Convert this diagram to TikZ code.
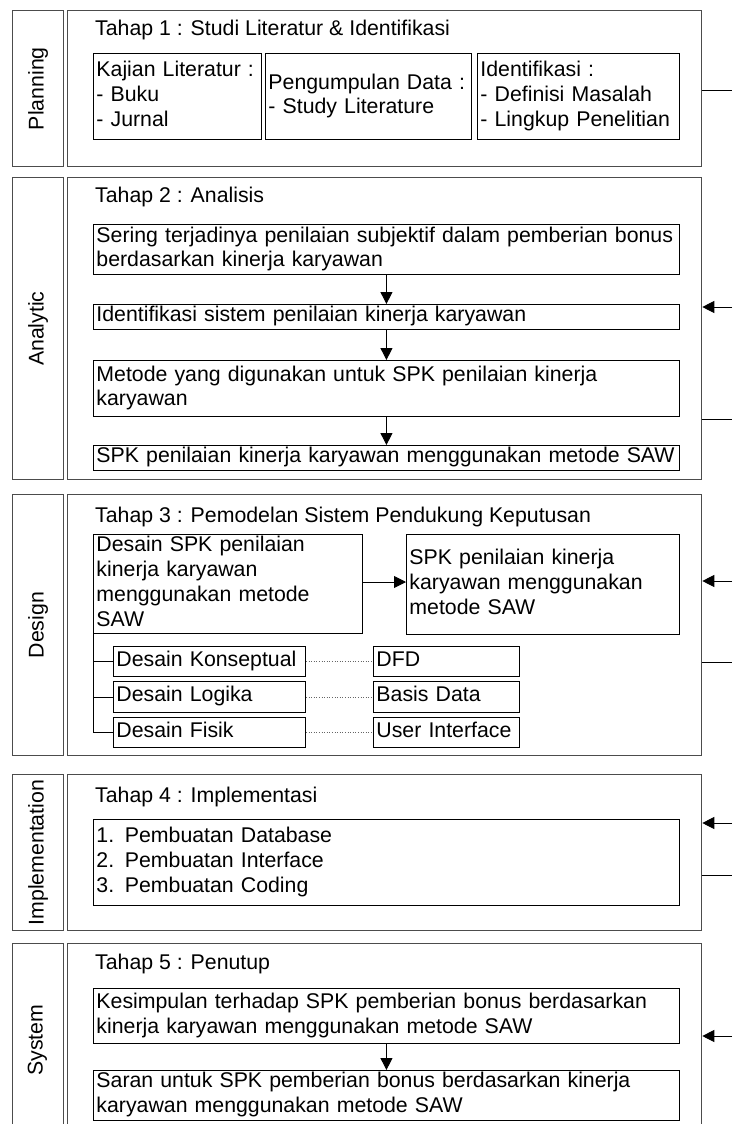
\documentclass[tikz,border=0pt]{standalone}
\usepackage{fontspec}
\setmainfont{Liberation Sans}
\usetikzlibrary{arrows.meta}
\tikzset{
 txt/.style={font=\fontsize{21.3}{24.8}\selectfont},
 outer/.style={draw=black!70, line width=1.3pt, anchor=north west, inner sep=0pt},
 inbox/.style={draw=black, line width=0.9pt, txt, align=left, anchor=north west, inner xsep=3pt, inner ysep=0pt},
 ttl/.style={txt, anchor=west, inner sep=2pt},
 vlab/.style={txt, rotate=90},
 arr/.style={line width=0.9pt, -{Triangle[length=12pt,width=12pt]}},
 con/.style={line width=0.9pt},
 dots/.style={dotted, line width=0.6pt, black!60},
}
\newcommand\bx[6]{%
 \pgfmathsetmacro\mybw{#4-#2}\pgfmathsetmacro\mybh{#5-#3}\pgfmathsetmacro\mytw{#4-#2-6}%
 \node[inbox, minimum width=\mybw pt, minimum height=\mybh pt, text width=\mytw pt] (#1) at (#2,#3) {\strut #6\strut};}
\newcommand\ob[5]{%
 \pgfmathsetmacro\mybw{#4-#2}\pgfmathsetmacro\mybh{#5-#3}%
 \node[outer, minimum width=\mybw pt, minimum height=\mybh pt] (#1) at (#2,#3) {};}
\begin{document}
\begin{tikzpicture}[x=1pt,y=-1pt]
\clip (0,0) rectangle (732,1124);
% ---------- Planning
\ob{l1}{12}{10}{63}{166}
\ob{m1}{67}{10}{701}{166}
\node[vlab] at (l1.center) {Planning};
\node[ttl] (t1) at (93,30) {Tahap 1 : Studi Literatur \& Identifikasi};
\bx{p1}{93}{53}{261}{139}{Kajian Literatur :\\- Buku\\- Jurnal}
\bx{p2}{265}{53}{471}{139}{Pengumpulan Data :\\- Study Literature}
\bx{p3}{477}{53}{679}{139}{Identifikasi :\\- Definisi Masalah\\- Lingkup Penelitian}
\coordinate (r1) at (732,90);
\draw[con] (m1.east |- r1) -- (r1);
% ---------- Analytic
\ob{l2}{12}{177}{63}{479}
\ob{m2}{67}{177}{701}{479}
\node[vlab] at (l2.center) {Analytic};
\node[ttl] (t2) at (93,197) {Tahap 2 : Analisis};
\bx{a1}{93}{224}{679}{274}{Sering terjadinya penilaian subjektif dalam pemberian bonus\\berdasarkan kinerja karyawan}
\bx{a2}{93}{304}{679}{327}{Identifikasi sistem penilaian kinerja karyawan}
\bx{a3}{93}{360}{679}{416}{Metode yang digunakan untuk SPK penilaian kinerja\\karyawan}
\bx{a4}{93}{445}{679}{470}{SPK penilaian kinerja karyawan menggunakan metode SAW}
\draw[arr] (a1.south) -- (a2.north);
\draw[arr] (a2.south) -- (a3.north);
\draw[arr] (a3.south) -- (a4.north);
\coordinate (r2) at (732,307);
\coordinate (r3) at (732,419);
\draw[arr] (r2) -- (m2.east |- r2);
\draw[con] (m2.east |- r3) -- (r3);
% ---------- Design
\ob{l3}{12}{494}{63}{755}
\ob{m3}{67}{494}{701}{755}
\node[vlab] at (l3.center) {Design};
\node[ttl] (t3) at (93,517) {Tahap 3 : Pemodelan Sistem Pendukung Keputusan};
\bx{d1}{93}{534}{362}{632}{Desain SPK penilaian\\kinerja karyawan\\menggunakan metode\\SAW}
\bx{d2}{406}{534}{679}{634}{SPK penilaian kinerja\\karyawan menggunakan\\metode SAW}
\draw[arr] (d1.east |- 0,582) -- (d2.west |- 0,582);
\bx{dk}{113}{646}{305}{676}{Desain Konseptual}
\bx{dl}{113}{681}{305}{712}{Desain Logika}
\bx{df}{113}{717}{305}{747}{Desain Fisik}
\bx{dd}{373}{646}{519}{676}{DFD}
\bx{db}{373}{681}{519}{712}{Basis Data}
\bx{du}{373}{717}{519}{747}{User Interface}
\draw[con] (d1.south west) |- (df.west);
\draw[con] (d1.south west |- dk.west) -- (dk.west);
\draw[con] (d1.south west |- dl.west) -- (dl.west);
\draw[dots] (dk.east) -- (dd.west);
\draw[dots] (dl.east) -- (db.west);
\draw[dots] (df.east) -- (du.west);
\coordinate (r4) at (732,581);
\coordinate (r5) at (732,662);
\draw[arr] (r4) -- (m3.east |- r4);
\draw[con] (m3.east |- r5) -- (r5);
% ---------- Implementation
\ob{l4}{12}{774}{63}{930}
\ob{m4}{67}{774}{701}{930}
\node[vlab] at (l4.center) {Implementation};
\node[ttl] (t4) at (93,797) {Tahap 4 : Implementasi};
\bx{i1}{93}{819}{679}{905}{1. Pembuatan Database\\2. Pembuatan Interface\\3. Pembuatan Coding}
\coordinate (r6) at (732,823);
\coordinate (r7) at (732,875);
\draw[arr] (r6) -- (m4.east |- r6);
\draw[con] (m4.east |- r7) -- (r7);
% ---------- System
\ob{l5}{12}{943}{63}{1140}
\ob{m5}{67}{943}{701}{1140}
\node[vlab] at (12+25.5,1040) {System};
\node[ttl] (t5) at (93,964) {Tahap 5 : Penutup};
\bx{s1}{93}{988}{679}{1043}{Kesimpulan terhadap SPK pemberian bonus berdasarkan\\kinerja karyawan menggunakan metode SAW}
\bx{s2}{93}{1070}{679}{1118}{Saran untuk SPK pemberian bonus berdasarkan kinerja\\karyawan menggunakan metode SAW}
\draw[arr] (s1.south) -- (s2.north);
\coordinate (r8) at (732,1036);
\draw[arr] (r8) -- (m5.east |- r8);
\end{tikzpicture}
\end{document}
